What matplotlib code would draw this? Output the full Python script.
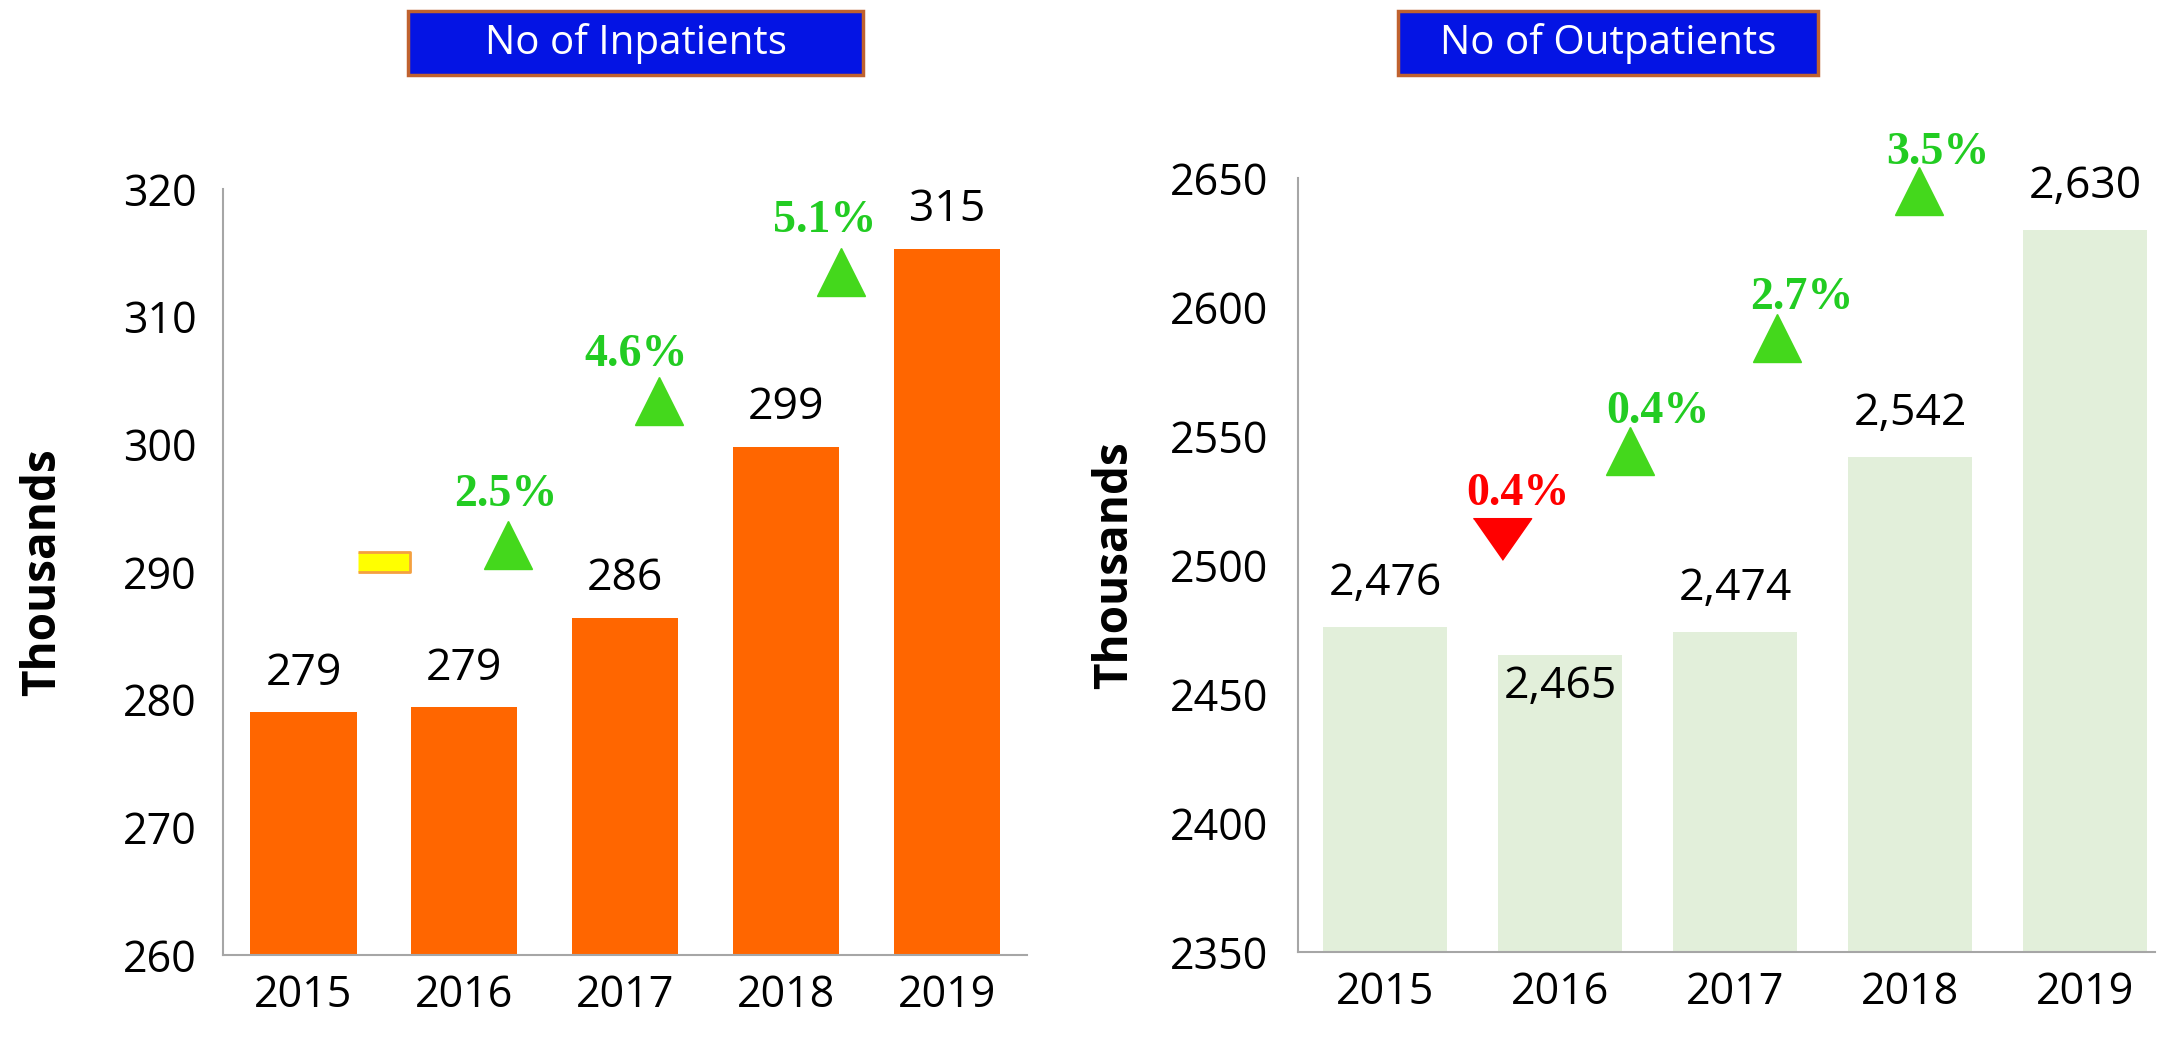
import matplotlib
matplotlib.use("Agg")
import matplotlib.pyplot as plt
from matplotlib.patches import Rectangle

plt.rcParams['font.family'] = ['Open Sans', 'DejaVu Sans']

# ============================
# Data
# ============================
years = ["2015", "2016", "2017", "2018", "2019"]

inpatients = [279.0, 279.4, 286.4, 299.8, 315.3]
inpatient_labels = ["279", "279", "286", "299", "315"]
inpatient_growth = [0.0, 2.5, 4.6, 5.1]

outpatients = [2476, 2465, 2474, 2542, 2630]
outpatient_labels = ["2,476", "2,465", "2,474", "2,542", "2,630"]
outpatient_growth = [-0.4, 0.4, 2.7, 3.5]

# where the growth arrows / texts sit (x in bar units, y in data units)
in_mark_x = [0.50, 1.27, 2.21, 3.34]
in_mark_y = [290.8, 292.1, 303.4, 313.5]
in_text_x = [None, 1.26, 2.07, 3.24]
in_text_y = [None, 296.0, 307.0, 317.5]

out_mark_x = [0.67, 1.40, 2.24, 3.05]
out_mark_y = [2510.0, 2544.0, 2588.0, 2644.9]
out_text_x = [0.76, 1.56, 2.38, 3.16]
out_text_y = [2527.5, 2559.4, 2603.6, 2659.7]

GREEN_TRI = "#44D81C"
GREEN_TXT = "#22CC22"
RED = "#FF0000"
SPINE = "#A6A6A6"

W, H = 2183, 1048
fig = plt.figure(figsize=(W / 100, H / 100), dpi=100)

ax1 = fig.add_axes([0.1022, 0.0887, 0.3683, 0.731])
ax2 = fig.add_axes([0.5944, 0.0916, 0.3928, 0.7386])


def style_axis(ax, ypad):
    for s in ["top", "right"]:
        ax.spines[s].set_visible(False)
    for s in ["left", "bottom"]:
        ax.spines[s].set_color(SPINE)
        ax.spines[s].set_linewidth(1.5)
    ax.tick_params(axis="both", length=0, labelsize=31)
    ax.tick_params(axis="y", pad=ypad)
    ax.tick_params(axis="x", pad=13)
    ax.set_ylabel("Thousands", fontsize=33, fontweight="bold")


def tri_marker(ax, x, y, g):
    if g > 0:
        ax.plot(x, y, marker="^", ms=34, color=GREEN_TRI, mec=GREEN_TRI,
                clip_on=False, zorder=5)
    elif g < 0:
        ax.plot(x, y, marker=[(-0.7, 0.5), (0.7, 0.5), (0, -0.5)], ms=42,
                color=RED, mec=RED, clip_on=False, zorder=5)
    else:
        ax.plot(x, y, marker=[(-1, -0.4), (1, -0.4), (1, 0.4), (-1, 0.4)],
                ms=37, color="#FFFF00", mec="#F4A040", mew=2,
                clip_on=False, zorder=5)


# ============================
# Inpatients
# ============================
xs = range(len(years))
bars1 = ax1.bar(xs, inpatients, width=0.66, color="#FF6600")
ax1.set_xlim(-0.5, 4.5)
ax1.set_ylim(260, 320)
ax1.set_yticks(range(260, 321, 10))
ax1.set_xticks(list(xs))
ax1.set_xticklabels(years)
style_axis(ax1, 19)
ax1.yaxis.set_label_coords(-0.195, 0.5)

for b, lab in zip(bars1, inpatient_labels):
    ax1.annotate(lab, (b.get_x() + b.get_width() / 2, b.get_height()),
                 xytext=(0, 28), textcoords="offset points",
                 ha="center", va="center", fontsize=32)

for i, g in enumerate(inpatient_growth):
    tri_marker(ax1, in_mark_x[i], in_mark_y[i], g)
    if g != 0:
        ax1.text(in_text_x[i], in_text_y[i], f"{abs(g):.1f}%",
                 ha="center", va="center", fontsize=33, fontweight="bold",
                 family="Liberation Serif", color=GREEN_TXT, clip_on=False)

# ============================
# Outpatients
# ============================
bars2 = ax2.bar(xs, outpatients, width=0.71, color="#E2EFDA")
ax2.set_xlim(-0.5, 4.4)
ax2.set_ylim(2350, 2650)
ax2.set_yticks(range(2350, 2651, 50))
ax2.set_xticks(list(xs))
ax2.set_xticklabels(years)
style_axis(ax2, 21)
ax2.yaxis.set_label_coords(-0.186, 0.5)

for i, (b, lab) in enumerate(zip(bars2, outpatient_labels)):
    off = -23 if i == 1 else 31
    ax2.annotate(lab, (b.get_x() + b.get_width() / 2, b.get_height()),
                 xytext=(0, off), textcoords="offset points",
                 ha="center", va="center", fontsize=32)

for i, g in enumerate(outpatient_growth):
    tri_marker(ax2, out_mark_x[i], out_mark_y[i], g)
    ax2.text(out_text_x[i], out_text_y[i], f"{abs(g):.1f}%",
             ha="center", va="center", fontsize=33, fontweight="bold",
             family="Liberation Serif",
             color=GREEN_TXT if g > 0 else RED, clip_on=False)

# ============================
# Title boxes
# ============================
for x0, x1, title in [(0.1869, 0.3953, "No of Inpatients"),
                      (0.6404, 0.8328, "No of Outpatients")]:
    fig.patches.append(Rectangle((x0, 0.9284), x1 - x0, 0.0611,
                                 transform=fig.transFigure,
                                 facecolor="#0414E4", edgecolor="#C0622F",
                                 linewidth=2.5))
    fig.text((x0 + x1) / 2, 0.9284 + 0.0611 / 2, title, color="white",
             ha="center", va="center", fontsize=29)

fig.savefig("out.png", dpi=100)
